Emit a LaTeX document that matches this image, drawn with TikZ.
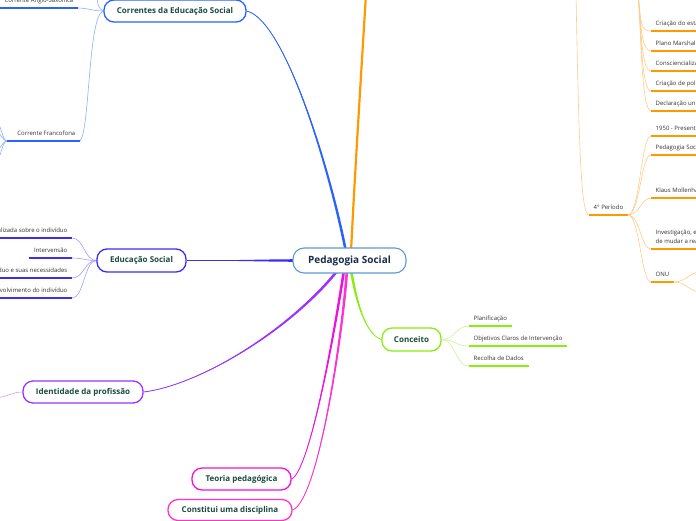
\documentclass[tikz,border=0pt]{standalone}
\usepackage{fontspec}
\setmainfont{Open Sans}
\usetikzlibrary{calc,backgrounds}
\definecolor{navy}{HTML}{1B2B4B}
\definecolor{dkgreen}{HTML}{1A4A3E}
\definecolor{txtgray}{HTML}{333333}
\definecolor{cblue}{HTML}{2962FF}
\definecolor{cblueL}{HTML}{8FAEFF}
\definecolor{corange}{HTML}{FF9900}
\definecolor{corangeL}{HTML}{FFCC88}
\definecolor{cind}{HTML}{3A2EF5}
\definecolor{cindL}{HTML}{A09CFF}
\definecolor{cpurp}{HTML}{9933FF}
\definecolor{cpurpL}{HTML}{C9A0FF}
\definecolor{cmag}{HTML}{EE11DD}
\definecolor{cmagB}{HTML}{FF33CC}
\definecolor{cgreen}{HTML}{88EE11}
\definecolor{cgreenL}{HTML}{C8F59A}
\definecolor{cps}{HTML}{5A9BD5}
\newcommand\taperto[6]{%
  \fill[#1] (#2) .. controls (#3) and ($(#4)+(#6)$) .. ($(#5)+(#6)$) -- ($(#5)-(#6)$) .. controls ($(#4)-(#6)$) and (#3) .. (#2) -- cycle;
  \draw[#1, line width=0.8pt] (#2) .. controls (#3) and (#4) .. (#5);
}
\tikzset{
  topic/.style={draw, line width=1.3pt, rounded corners=10pt, fill=white,
    font=\fontsize{8}{9}\selectfont\bfseries, text=dkgreen, minimum height=22pt,
    inner xsep=2pt, inner ysep=0pt},
  central/.style={topic, draw=cps, line width=1.1pt, font=\fontsize{10}{12}\selectfont\bfseries,
    text=navy, minimum height=25pt, rounded corners=11pt},
  lbl/.style={font=\fontsize{6}{7}\selectfont, text=txtgray, inner xsep=4.5pt,
    inner ysep=4pt, text height=4.5pt, text depth=1.5pt},
  uline/.style={line width=1.4pt},
  twig/.style={line width=0.6pt}
}
\begin{document}
\begin{tikzpicture}[x=1pt,y=-1pt]
\useasboundingbox (0,0) rectangle (696,520);
% main topics
\node[central, minimum width=113pt] (ps) at (349.5,260.5) {Pedagogia Social};
\node[topic, draw=cblue, minimum width=142pt] (ce) at (175,11) {Correntes da Educação Social};
\node[topic, draw=cind, minimum width=89pt, minimum height=23pt] (es) at (141.5,260.5) {Educação Social};
\node[topic, draw=cpurp, minimum width=120pt] (id) at (83,392) {Identidade da profissão};
\node[topic, draw=cmag, minimum width=99pt] (tp) at (241.5,479) {Teoria pedagógica};
\node[topic, draw=cmagB, minimum width=124pt, minimum height=21pt] (cd) at (230,510) {Constitui uma disciplina};
\node[topic, draw=cgreen, minimum width=59pt, minimum height=23pt] (co) at (411.5,339.5) {Conceito};
% labels: Correntes
\node[lbl, anchor=south east] (as) at (78,8) {Corrente Anglo-Saxónica};
\node[lbl, anchor=south east] (cf) at (80,141) {Corrente Francofona};
\coordinate (fj) at (7,141);
% labels: Educacao
\node[lbl, anchor=south east] (e1) at (72,238) {Intervenção personalizada sobre o indivíduo};
\node[lbl, anchor=south east] (e2) at (72,258) {Intervensão};
\node[lbl, anchor=south east] (e3) at (72,278) {Centrada no indivíduo e suas necessidades};
\node[lbl, anchor=south east] (e4) at (72,298) {Promove o desenvolvimento do indivíduo};
% labels: Conceito
\node[lbl, anchor=south west] (k1) at (469,326) {Planificação};
\node[lbl, anchor=south west] (k2) at (469,346) {Objetivos Claros de Intervenção};
\node[lbl, anchor=south west] (k3) at (469,366) {Recolha de Dados};
% labels: right side
\node[lbl, anchor=south west] (t1) at (651,31) {Criação do estado social};
\node[lbl, anchor=south west] (t2) at (651,51) {Plano Marshall};
\node[lbl, anchor=south west] (t3) at (651,71) {Consciencialização social};
\node[lbl, anchor=south west] (t4) at (651,91) {Criação de políticas sociais};
\node[lbl, anchor=south west] (t5) at (651,111) {Declaração universal dos direitos humanos};
\node[lbl, anchor=south west] (p4) at (589,215) {4° Período};
\node[lbl, anchor=south west] (q1) at (651,136) {1950 - Presente};
\node[lbl, anchor=south west] (q2) at (651,155) {Pedagogia Social};
\node[lbl, anchor=south west] (q3) at (651,198) {Klaus Mollenhauer};
\node[lbl, anchor=south west] (q4) at (651,249) {de mudar a realidade};
\node[lbl, anchor=base west, inner sep=0pt] (q4a) at (655.5,234) {Investigação, educação e capacidade};
\node[lbl, anchor=south west] (q5) at (651,282) {ONU};
% coordinates
\coordinate (psA) at (346,252);
\coordinate (psB) at (351,252);
\coordinate (psC) at (300,260.5);
\coordinate (psD) at (338,270);
\coordinate (psE) at (344,270);
\coordinate (psF) at (347,270);
\coordinate (psG) at (351,270);
\coordinate (topA) at (366,-6);
\coordinate (topC) at (97,-6);
\coordinate (topP) at (576,-6);
\coordinate (topQ) at (638,-6);
\coordinate (idL) at (-5,398);
\coordinate (onuA) at (700,272);
\coordinate (onuB) at (700,292);
\begin{scope}[on background layer]
\fill[white] (0,0) rectangle (696,520);
% main connectors
\taperto{cblue}{ce.east}{285,20}{330,170}{psA}{1.3,0}
\draw[corange, line width=2.2pt] (psB) .. controls (355,170) and (362,60) .. (topA);
\taperto{cind}{es.east}{230,260.5}{270,260.5}{psC}{0,1.3}
\taperto{cpurp}{id.east}{200,385}{290,330}{psD}{1,0.8}
\taperto{cmag}{tp.east}{310,470}{335,330}{psE}{1.3,0}
\taperto{cmagB}{cd.east}{318,500}{342,340}{psF}{1.3,0}
\taperto{cgreen}{co.west}{365,334}{356,300}{psG}{1.3,0}
% Correntes twigs
\draw[twig, cblueL] (ce.west) .. controls (92,11) and (88,8) .. (as.south east);
\draw[twig, cblueL] (ce.west) .. controls (99,9) and (97,5) .. (topC);
\draw[twig, cblueL] (ce.west) .. controls (88,15) and (90,130) .. (cf.south east);
\foreach \i/\y in {a/122,b/132,c/150,d/160}{
  \coordinate (fan\i) at (-4,\y);
  \draw[twig, cblueL] (fj) .. controls (2,141) and (1,\y) .. (fan\i);
}
\draw[uline, cblue] (as.south west) -- (as.south east);
\draw[uline, cblue] (fj) -- (cf.south east);
% Educacao twigs
\foreach \n in {e1,e2,e3,e4}{
  \draw[twig, cindL] (es.west) .. controls +(-12,0) and +(12,0) .. (\n.south east);
  \draw[uline, cind] (\n.south west) -- (\n.south east);
}
% Conceito twigs
\foreach \n in {k1,k2,k3}{
  \draw[twig, cgreenL] (co.east) .. controls +(14,0) and +(-14,0) .. (\n.south west);
  \draw[uline, cgreen] (\n.south west) -- (\n.south east);
}
% Identidade twig
\draw[twig, cpurpL] (id.west) .. controls (12,392) and (8,397) .. (idL);
% right side
\draw[twig, corangeL] (topP) .. controls (579,150) and (581,215) .. (p4.south west);
\draw[uline, corange] (p4.south west) -- (p4.south east);
\foreach \n in {q1,q2,q3,q4,q5}{
  \draw[twig, corangeL] (p4.south east) .. controls +(12,0) and +(-10,0) .. (\n.south west);
  \draw[uline, corange] (\n.south west) -- (\n.south east);
}
\foreach \n in {t1,t2,t3,t4,t5}{
  \draw[twig, corangeL] (topQ) .. controls +(3,30) and +(-10,0) .. (\n.south west);
  \draw[uline, corange] (\n.south west) -- (\n.south east);
}
\draw[twig, corangeL] (q5.south east) .. controls +(12,0) and +(-10,0) .. (onuA);
\draw[twig, corangeL] (q5.south east) .. controls +(12,0) and +(-10,0) .. (onuB);
\end{scope}
\end{tikzpicture}
\end{document}
